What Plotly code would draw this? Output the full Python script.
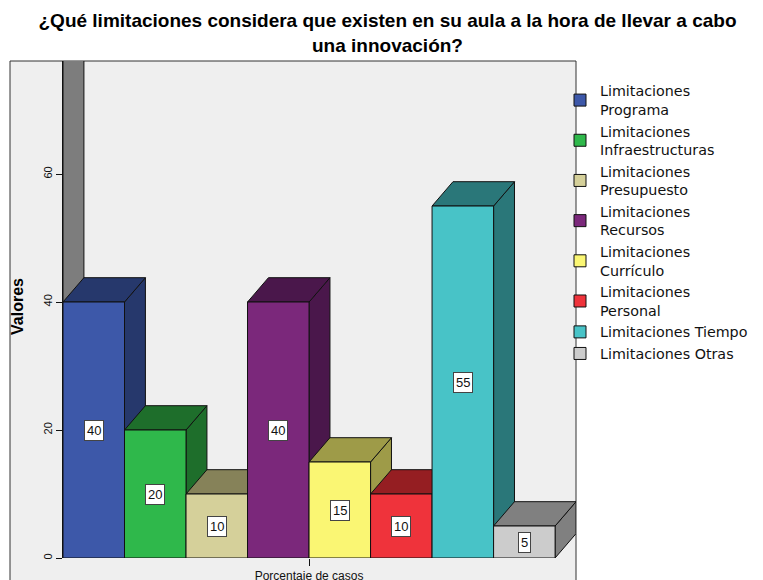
import plotly.graph_objects as go

# ---------------- data ----------------
categories = [
    "Limitaciones<br>Programa",
    "Limitaciones<br>Infraestructuras",
    "Limitaciones<br>Presupuesto",
    "Limitaciones<br>Recursos",
    "Limitaciones<br>Currículo",
    "Limitaciones<br>Personal",
    "Limitaciones Tiempo",
    "Limitaciones Otras",
]
values = [40, 20, 10, 40, 15, 10, 55, 5]
front_colors = ["#3d58a9", "#2fb84b", "#d5d09a", "#7b287b", "#faf673",
                "#ef333b", "#48c3c7", "#cccccc"]
dark_colors = ["#26386c", "#1e6e2b", "#868259", "#4a174b", "#9e9b48",
               "#951e22", "#2a7779", "#808080"]
x_category = "Porcentaje de casos"
y_ticks = [0, 20, 40, 60]
title_text = "¿Qué limitaciones considera que existen en su aula a la hora de llevar a cabo<br>una innovación?"
y_title = "Valores"

# ---------------- style ----------------
FONT = "Liberation Sans, Arial, sans-serif"
LEG_FONT = "DejaVu Sans, Liberation Sans, sans-serif"
OFF = 8                      # page body margin compensation
W, H = 763 - OFF, 580 - OFF
DX = 0.34   # depth offset (x data units)
DY = 3.8    # depth offset (y data units)
Y_MAX = 77.66
X_MAX = 8.34
L, R, T, B = 63 - OFF, 187, 61 - OFF, 22
plot_w = W - L - R
plot_h = H - T - B

fig = go.Figure()

n = len(values)
for i, (name, v, fc) in enumerate(zip(categories, values, front_colors)):
    fig.add_trace(go.Bar(
        x=[i + 0.5], y=[v], width=1, name=name,
        marker=dict(color=fc, line=dict(color="#111111", width=1)),
        hoverinfo="name+y",
    ))

shapes = []
# outer chart frame
shapes.append(dict(type="rect", xref="paper", yref="paper",
                   x0=(10 - OFF - L) / plot_w, x1=1.0, y0=-0.2, y1=1.0,
                   fillcolor="#efefef", line=dict(color="#333333", width=1),
                   layer="below"))
# left wall of the 3D box
shapes.append(dict(type="path", xref="x", yref="y",
                   path=f"M 0,0 L {DX},{DY} L {DX},{Y_MAX + 20} L 0,{Y_MAX + 20} Z",
                   fillcolor="#7d7d7d", line=dict(color="#111111", width=1),
                   layer="below"))
for i, (v, dc) in enumerate(zip(values, dark_colors)):
    side = (f"M {i + 1},0 L {i + 1 + DX},{DY} L {i + 1 + DX},{v + DY} "
            f"L {i + 1},{v} Z")
    top = (f"M {i},{v} L {i + DX},{v + DY} L {i + 1 + DX},{v + DY} "
           f"L {i + 1},{v} Z")
    for p in (side, top):
        shapes.append(dict(type="path", xref="x", yref="y", path=p,
                           fillcolor=dc, line=dict(color="#111111", width=1),
                           layer="below"))

annotations = []
for i, v in enumerate(values):
    annotations.append(dict(
        x=i + 0.5, y=v / 2, xref="x", yref="y", text=str(v), showarrow=False,
        font=dict(family=FONT, size=13, color="#111111"),
        bgcolor="white", bordercolor="#444444", borderwidth=1, borderpad=2,
    ))
annotations.append(dict(
    x=(17 - OFF - L) / plot_w, y=(558 - 307) / plot_h, xref="paper", yref="paper",
    xanchor="center", yanchor="middle",
    text=f"<b>{y_title}</b>", textangle=-90, showarrow=False,
    font=dict(family=FONT, size=16, color="black"),
))

fig.update_layout(
    template="none",
    width=W, height=H,
    margin=dict(l=L, r=R, t=T, b=B, pad=0, autoexpand=False),
    paper_bgcolor="white", plot_bgcolor="#efefef",
    barmode="overlay",
    showlegend=True,
    title=dict(text=f"<b>{title_text}</b>", x=(387.5 - OFF) / W, xref="container",
               xanchor="center", y=1 - 19 / H, yref="container", yanchor="top",
               font=dict(family=FONT, size=19, color="black")),
    xaxis=dict(range=[0, X_MAX], tickmode="array", tickvals=[n / 2],
               ticktext=[x_category], ticks="outside", ticklen=7,
               tickcolor="#111111", tickfont=dict(family=FONT, size=12, color="#111111"),
               showgrid=False, zeroline=False, showline=False, fixedrange=True,
               automargin=False),
    yaxis=dict(range=[0, Y_MAX], tickmode="array", tickvals=y_ticks,
               ticks="outside", ticklen=6, tickcolor="#111111", tickangle=-90,
               tickfont=dict(family=FONT, size=11, color="#111111"),
               showgrid=False, zeroline=False, showline=True,
               linecolor="#111111", linewidth=1, fixedrange=True,
               automargin=False),
    legend=dict(x=(560 - OFF) / W, xref="container", xanchor="left",
                y=1 - (75 - OFF) / H, yref="container", yanchor="top",
                bgcolor="rgba(0,0,0,0)", borderwidth=0, maxheight=480,
                font=dict(family=LEG_FONT, size=14.3, color="#111111"),
                itemwidth=30, traceorder="normal", itemclick=False),
    shapes=shapes,
    annotations=annotations,
)

fig.write_html("out.html")
